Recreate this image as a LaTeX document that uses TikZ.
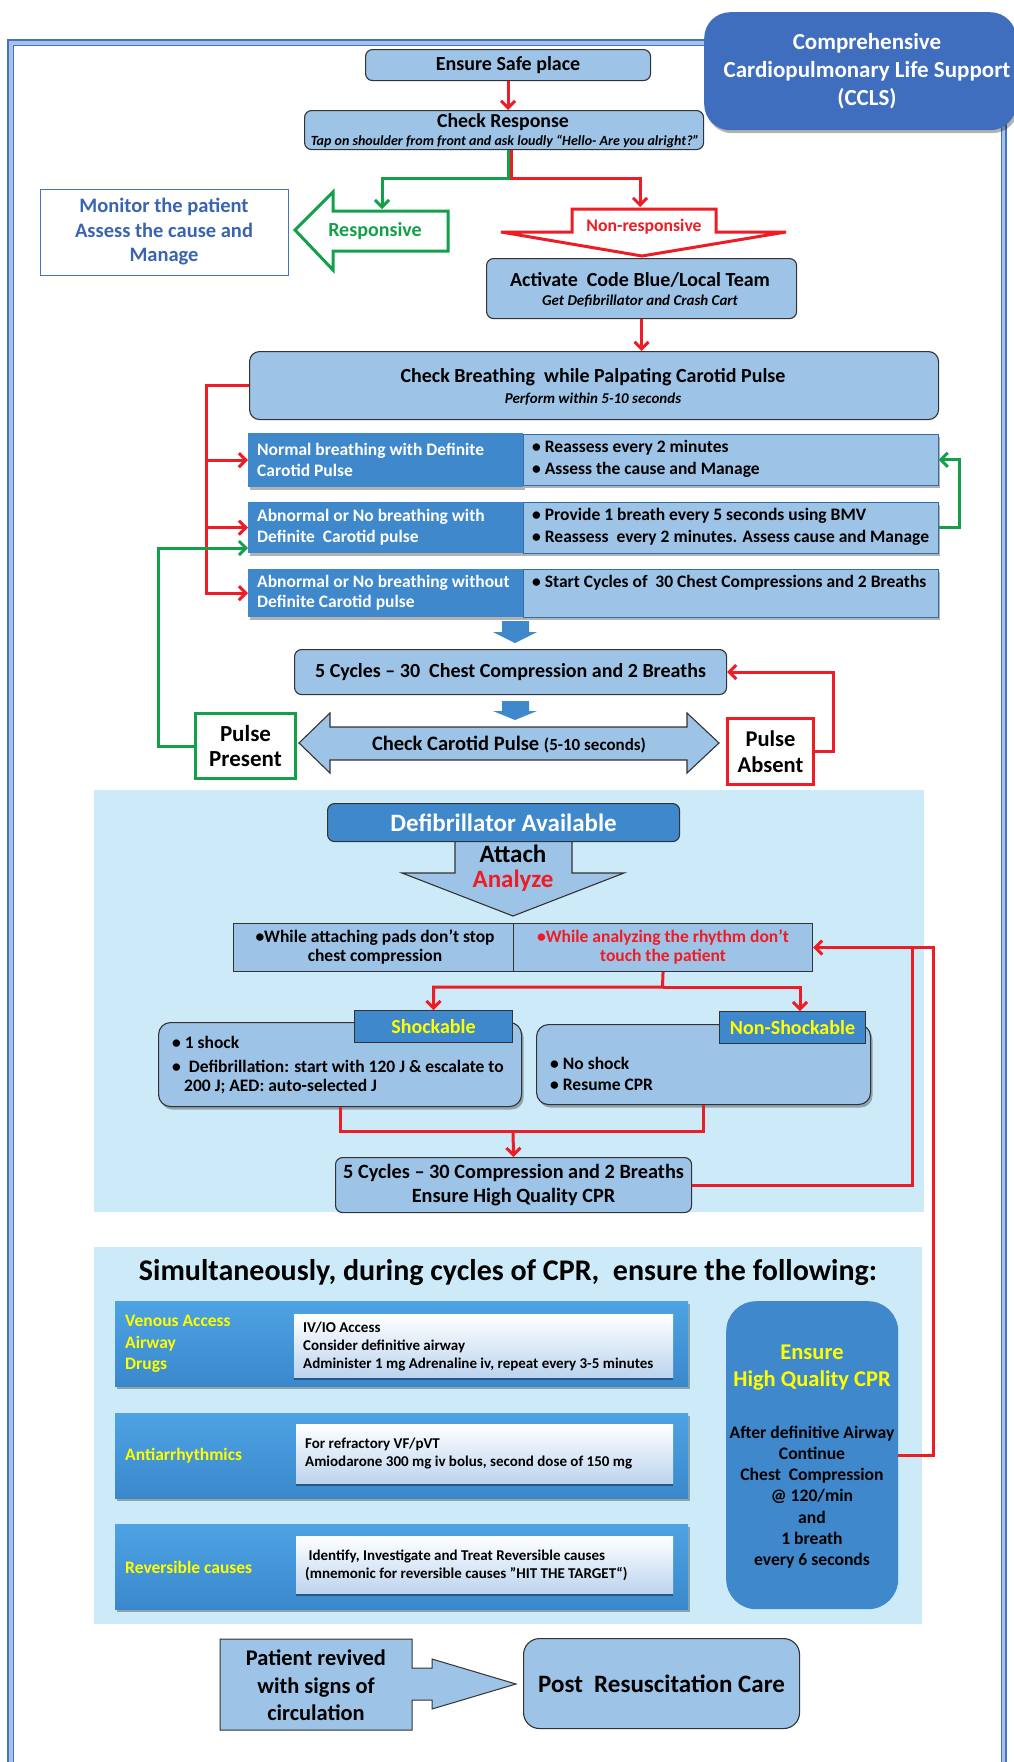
\documentclass[tikz,border=0pt]{standalone}
\usepackage{fontspec}
\setmainfont{Carlito}
\usetikzlibrary{arrows.meta,shadows,calc}
\definecolor{lb}{HTML}{9DC3E6}
\definecolor{db}{HTML}{3F88CC}
\definecolor{tb}{HTML}{3F6EBF}
\definecolor{pan}{HTML}{CDEAF8}
\definecolor{rd}{HTML}{EE1C25}
\definecolor{gr}{HTML}{12A04A}
\definecolor{mb}{HTML}{3A63B0}
\definecolor{yl}{HTML}{FFFF00}
\definecolor{fr}{HTML}{4472C4}
\definecolor{frl}{HTML}{A9C0E8}
\definecolor{gtop}{HTML}{4DA3E3}
\definecolor{gbot}{HTML}{3A88CC}
\definecolor{itop}{HTML}{FFFFFF}
\definecolor{ibot}{HTML}{BCD4EE}
\newcommand{\fs}[2]{\fontsize{#1pt}{#2pt}\selectfont\bfseries}
\tikzset{
 box/.style={draw=black!80, fill=lb, line width=1.1pt, rounded corners=7pt, inner sep=0pt, anchor=north west, align=center},
 sqbox/.style={draw=black!80, fill=lb, line width=1.1pt, inner sep=0pt, anchor=north west},
 dbox/.style={fill=db, draw=none, inner sep=0pt, anchor=north west},
 lbrow/.style={fill=lb, draw=db!80!black, line width=0.6pt, inner sep=0pt, anchor=north west},
 txt/.style={inner sep=0pt, align=center},
 ltxt/.style={inner sep=0pt, align=left, anchor=west},
 rline/.style={draw=rd, line width=3pt},
 gline/.style={draw=gr, line width=3pt},
 rarr/.style={rline, -{Straight Barb[length=7pt, width=14pt]}},
 garr/.style={gline, -{Straight Barb[length=7pt, width=14pt]}},
 shad/.style={drop shadow={shadow xshift=2pt, shadow yshift=-3pt, opacity=0.3, fill=black}},
 blk/.style={draw=black!80, line width=1.1pt, fill=lb, line join=miter},
 rowbox/.style={anchor=north west, inner sep=0pt, top color=gtop, bottom color=gbot, shad},
 inbox/.style={anchor=north west, inner sep=0pt, top color=itop, bottom color=ibot, drop shadow={shadow xshift=0pt, shadow yshift=-3pt, fill=black!60!db, opacity=0.6}},
}
\begin{document}
\begin{tikzpicture}[x=1pt,y=-1pt]
\useasboundingbox (0,0) rectangle (1014,1762);
\fill[white] (0,0) rectangle (1014,1762);
% frame
\draw[frl, line width=5pt] (10.5,1780) -- (10.5,42.5) -- (1003.5,42.5) -- (1003.5,1780);
\draw[fr, line width=1.5pt] (8,1780) -- (8,40) -- (1006,40) -- (1006,1780);
\draw[fr, line width=1pt] (13,1780) -- (13,45) -- (1001,45) -- (1001,1780);

% panels
\node[fill=pan, anchor=north west, minimum width=830pt, minimum height=422pt, inner sep=0pt] (panel1) at (94,790) {};
\node[fill=pan, anchor=north west, minimum width=828pt, minimum height=377pt, inner sep=0pt] (panel2) at (94,1247) {};

% title
\node[fill=tb, rounded corners=26pt, minimum width=312pt, minimum height=118pt, anchor=north west, shad] (title) at (704,12) {};
\node[txt, text=white, font=\fs{23}{28}] (titletxt) at (867,71) {Comprehensive\\Cardiopulmonary Life Support\\(CCLS)};

% top
\node[box, minimum width=285pt, minimum height=31pt, font=\fs{20}{22}] (safe) at (365,49) {Ensure Safe place};
\node[box, minimum width=399pt, minimum height=39pt] (chk) at (304,110) {};
\node[txt, font=\fs{19.8}{22}] (chkt) at (503,122) {Check Response};
\node[txt, font=\fs{14}{16}\itshape] (chks) at (505,142) {Tap on shoulder from front and ask loudly “Hello- Are you alright?”};
\draw[rarr] (safe.south) -- (safe.south |- chk.north);

\coordinate (sg) at (508.5,178);
\coordinate (sr) at (511.5,178);
\coordinate (respin) at (382,209);
\coordinate (nonin) at (640,207);

% responsive arrow
\draw[gr, line width=3pt, fill=white, line join=miter] (295,230) -- (333,192) -- (333,211) -- (448,211) -- (448,251) -- (333,251) -- (333,270) -- cycle;
\node[txt, text=gr, font=\fs{20}{22}] (resptxt) at (375,231) {Responsive};
% non-responsive arrow
\draw[rd, line width=3pt, fill=white, line join=miter] (572,209) -- (716,209) -- (716,232) -- (786,232) -- (642,256) -- (501,232) -- (572,232) -- cycle;
\node[txt, text=rd, font=\fs{17.7}{20}] (nontxt) at (644,227) {Non-responsive};

\draw[garr] (chk.south -| sg) -- (sg) -| (respin);
\draw[rarr] (chk.south -| sr) -- (sr) -| (nonin);

\node[draw=fr, line width=1.2pt, fill=white, minimum width=248pt, minimum height=86pt, anchor=north west, inner sep=0pt] (mon) at (40,189) {};
\node[txt, text=mb, font=\fs{20.5}{24.5}] (mont) at (164,232) {Monitor the patient\\Assess the cause and\\Manage};

\node[box, minimum width=310pt, minimum height=60pt] (act) at (486,258) {};
\node[txt, font=\fs{20}{22}] (actt) at (640,280) {Activate\ \ Code Blue/Local Team};
\node[txt, font=\fs{15}{17}\itshape] (acts) at (640,301) {Get Defibrillator and Crash Cart};

\node[box, rounded corners=10pt, minimum width=689pt, minimum height=68pt] (cb) at (249,351) {};
\node[txt, font=\fs{20}{22}] (cbt) at (593,377) {Check Breathing\ \ while Palpating Carotid Pulse};
\node[txt, font=\fs{15}{17}\itshape] (cbs) at (593,399) {Perform within 5-10 seconds};
\draw[rarr] (act.south) -- (act.south |- cb.north);

% rows
\node[dbox, shad, minimum width=275pt, minimum height=54pt] (r1l) at (248,433) {};
\node[lbrow, shad, minimum width=415pt, minimum height=51pt] (r1r) at (523,434) {};
\node[dbox, shad, minimum width=275pt, minimum height=51pt] (r2l) at (248,502) {};
\node[lbrow, shad, minimum width=415pt, minimum height=51pt] (r2r) at (523,502) {};
\node[dbox, shad, minimum width=275pt, minimum height=48pt] (r3l) at (248,569) {};
\node[lbrow, shad, minimum width=415pt, minimum height=48pt] (r3r) at (523,569) {};
\node[ltxt, text=white, font=\fs{17.5}{21}] (r1lt) at (257,460) {Normal breathing with Definite\\Carotid Pulse};
\node[ltxt, font=\fs{17.5}{22}] (r1rt) at (532,459) {• Reassess every 2 minutes\\• Assess the cause and Manage};
\node[ltxt, text=white, font=\fs{17.5}{21}] (r2lt) at (257,527.5) {Abnormal or No breathing with\\Definite\ \ Carotid pulse};
\node[ltxt, font=\fs{17.5}{22}] (r2rt) at (532,527) {• Provide 1 breath every 5 seconds using BMV\\• Reassess\ \ every 2 minutes. Assess cause and Manage};
\node[ltxt, text=white, font=\fs{17.5}{20}] (r3lt) at (257,592.5) {Abnormal or No breathing without\\Definite Carotid pulse};
\node[ltxt, font=\fs{17.5}{22}] (r3rt) at (532,583) {• Start Cycles of\ \ 30 Chest Compressions and 2 Breaths};

\coordinate (rb) at (206,0);
\draw[rarr] (cb.west) -| (rb |- r3l.west) -- (r3l.west);
\draw[rarr] (rb |- r1l.west) -- (r1l.west);
\draw[rarr] (rb |- r2l.west) -- (r2l.west);
\coordinate (gb) at (959,0);
\draw[garr] (r2r.east) -| (gb |- r1r.east) -- (r1r.east);

% blue small arrows
\fill[db] (502,621) -- (529,621) -- (529,632) -- (537,632) -- (515,643) -- (493,632) -- (502,632) -- cycle;
\fill[db] (502,701) -- (529,701) -- (529,711) -- (537,711) -- (515,720) -- (493,711) -- (502,711) -- cycle;

\node[box, minimum width=432pt, minimum height=45pt, font=\fs{20}{22}] (c5) at (294,649) {5 Cycles – 30\ \ Chest Compression and 2 Breaths};

\draw[blk] (299,743) -- (330,713) -- (330,727) -- (687,727) -- (687,713) -- (719,743) -- (687,773) -- (687,760) -- (330,760) -- (330,773) -- cycle;
\node[txt, font=\fs{20.5}{22}] (ccp) at (509,745) {Check Carotid Pulse {\fontsize{17pt}{18pt}\selectfont (5-10 seconds)}};

\node[draw=gr, line width=3pt, fill=white, minimum width=100pt, minimum height=65pt, anchor=north west, inner sep=0pt, align=center, font=\fs{23}{25}] (pp) at (194,712) {Pulse\\Present};
\node[draw=rd, line width=3pt, fill=white, minimum width=86pt, minimum height=66pt, anchor=north west, inner sep=0pt, align=center, font=\fs{22.5}{26}] (pa) at (726,717) {Pulse\\Absent};

\coordinate (rabs) at (833,0);
\draw[rarr] (pa.east) -| (rabs |- c5.east) -- (c5.east);
\coordinate (gl) at (158,0);
\coordinate (r2in) at (248,548);
\draw[garr] (pp.west) -| (gl |- r2in) -- (r2in);

% defibrillator section
\draw[blk] (455,841) -- (572,841) -- (572,873) -- (624,873) -- (513,916) -- (402,873) -- (455,873) -- cycle;
\node[box, fill=db, minimum width=352pt, minimum height=38pt, text=white, font=\fs{25}{26}] (defib) at (327,803) {Defibrillator Available};
\node[txt, font=\fs{25}{26}] (att) at (513,854) {Attach};
\node[txt, text=rd, font=\fs{25}{26}] (ana) at (513,881) {Analyze};

\node[sqbox, minimum width=280pt, minimum height=48pt] (tcl) at (233,923) {};
\node[sqbox, minimum width=299pt, minimum height=48pt] (tcr) at (513,923) {};
\node[txt, font=\fs{17.5}{19}] (tclt) at (375,946.5) {•While attaching pads don’t stop\\chest compression};
\node[txt, text=rd, font=\fs{17.5}{19}] (tcrt) at (663,946.5) {•While analyzing the rhythm don’t\\touch the patient};

\node[box, rounded corners=12pt, minimum width=363pt, minimum height=84pt, shad] (shk) at (158,1022) {};
\node[dbox, draw=black!80, line width=1pt, minimum width=158pt, minimum height=32pt, text=yl, font=\fs{20}{20}] (shl) at (354,1010) {Shockable};
\node[ltxt, font=\fs{17.5}{20}] (s1) at (172,1042) {• 1 shock};
\node[ltxt, font=\fs{17.5}{20}] (s2) at (172,1066) {•\ \ Defibrillation: start with 120 J \& escalate to};
\node[ltxt, font=\fs{17.5}{20}] (s3) at (184,1087) {200 J; AED: auto-selected J};

\node[box, rounded corners=12pt, minimum width=334pt, minimum height=80pt, shad] (nsk) at (536,1024) {};
\node[dbox, draw=black!80, line width=1pt, minimum width=146pt, minimum height=32pt, text=yl, font=\fs{20}{20}] (nsl) at (719,1011) {Non-Shockable};
\node[ltxt, font=\fs{17.5}{20}] (n1) at (550,1063) {• No shock};
\node[ltxt, font=\fs{17.5}{20}] (n2) at (550,1085) {• Resume CPR};

\coordinate (sp2) at (662.5,987);
\coordinate (nsa) at (800,1011);
\draw[rarr] (tcr.south) -- (sp2) -| (shl.north);
\draw[rarr] (sp2) -| (nsa);

\node[box, minimum width=356pt, minimum height=55pt, font=\fs{20.3}{24}] (c52) at (335,1157) {5 Cycles – 30 Compression and 2 Breaths\\Ensure High Quality CPR};
\coordinate (sb) at (340,1131);
\coordinate (nb) at (703,1131);
\coordinate (mg) at (513,1131);
\draw[rline] (shk.south -| sb) -- (sb) -- (nb) -- (nsk.south -| nb);
\draw[rarr] (mg) -- (c52.north);

% simultaneous section
\node[txt, font=\fs{30}{32}] (head) at (508,1272) {Simultaneously, during cycles of CPR,\ \ ensure the following:};

\node[rowbox, minimum width=573pt, minimum height=85pt] (rowA) at (115,1301) {};
\node[inbox, minimum width=379pt, minimum height=63pt] (inA) at (294,1314) {};
\node[ltxt, text=yl, font=\fs{17.5}{21.5}] (tA) at (125,1344) {Venous Access\\Airway\\Drugs};
\node[ltxt, font=\fs{15}{18}] (iA) at (303,1346) {IV/IO Access\\Consider definitive airway\\Administer 1 mg Adrenaline iv, repeat every 3-5 minutes};

\node[rowbox, minimum width=573pt, minimum height=85pt] (rowB) at (115,1413) {};
\node[inbox, minimum width=377pt, minimum height=59pt] (inB) at (296,1424) {};
\node[ltxt, text=yl, font=\fs{17.5}{20}] (tB) at (125,1456) {Antiarrhythmics};
\node[ltxt, font=\fs{15}{18}] (iB) at (305,1453) {For refractory VF/pVT\\Amiodarone 300 mg iv bolus, second dose of 150 mg};

\node[rowbox, minimum width=573pt, minimum height=85pt] (rowC) at (115,1524) {};
\node[inbox, minimum width=377pt, minimum height=57pt] (inC) at (296,1536) {};
\node[ltxt, text=yl, font=\fs{17.5}{20}] (tC) at (125,1567) {Reversible causes};
\node[ltxt, font=\fs{15}{18}] (iC) at (305,1565) {\ Identify, Investigate and Treat Reversible causes\\(mnemonic for reversible causes "HIT THE TARGET“)};

\node[fill=db, rounded corners=30pt, minimum width=172pt, minimum height=308pt, anchor=north west, inner sep=0pt] (ecpr) at (726,1301) {};
\node[txt, text=yl, font=\fs{22.5}{27}] (ecy) at (812,1368) {Ensure\\High Quality CPR};
\node[txt, font=\fs{17.6}{21.2}] (ecb) at (812,1497) {After definitive Airway\\Continue\\Chest\ \ Compression\\@ 120/min\\and\\1 breath\\every 6 seconds};

\coordinate (rx1) at (912,0);
\coordinate (rx2) at (933,0);
\draw[rline] (c52.east) -| (rx1 |- tcr.east);
\draw[rarr] (ecpr.east) -| (rx2 |- tcr.east) -- (tcr.east);

% bottom
\draw[blk, line width=1pt] (220,1639) -- (412,1639) -- (412,1668) -- (432,1668) -- (432,1659) -- (516,1684) -- (432,1709) -- (432,1700) -- (412,1700) -- (412,1730) -- (220,1730) -- cycle;
\node[txt, font=\fs{22.4}{27.5}] (prev) at (316,1685.5) {Patient revived\\with signs of\\circulation};
\node[box, rounded corners=16pt, minimum width=276pt, minimum height=90pt, font=\fs{25}{28}] (post) at (523,1638) {Post\ \ Resuscitation Care};
\end{tikzpicture}
\end{document}
